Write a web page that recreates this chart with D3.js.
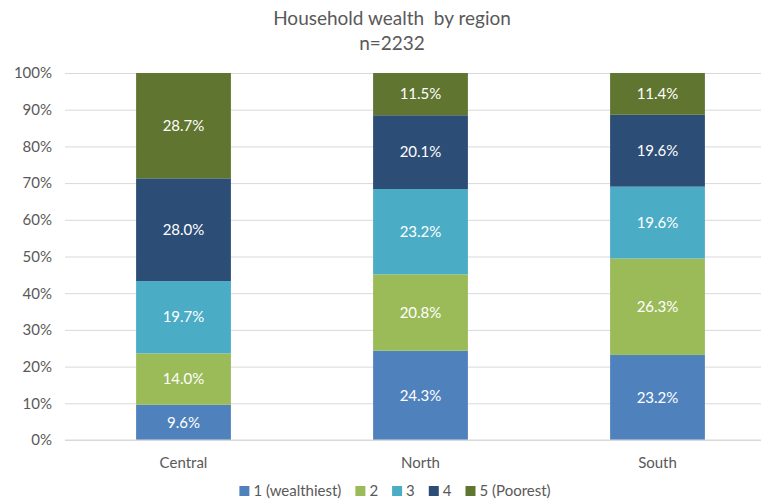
<!DOCTYPE html>
<html>
<head>
<meta charset="utf-8">
<script src="https://cdn.jsdelivr.net/npm/d3@7"></script>
<style>
  body { margin: 0; background: #fff; }
  svg text { font-family: Lato, "Open Sans", sans-serif; }
</style>
</head>
<body>
<svg id="chart"></svg>
<script>
// data
const regions = ['Central', 'North', 'South'];
const groups = ['1 (wealthiest)', '2', '3', '4', '5 (Poorest)'];
const q1 = [9.6, 24.3, 23.2];
const q2 = [14.0, 20.8, 26.3];
const q3 = [19.7, 23.2, 19.6];
const q4 = [28.0, 20.1, 19.6];
const q5 = [28.7, 11.5, 11.4];
const yTicks = [0, 10, 20, 30, 40, 50, 60, 70, 80, 90, 100];
const colors = ['#4F81BD', '#9BBB59', '#4BACC6', '#2C4D75', '#5F7530'];

const width = 761, height = 500;
const margin = {top: 73, right: -15, bottom: 60, left: 65};

const svg = d3.select('#chart')
    .attr('width', width)
    .attr('height', height);

const rows = regions.map((r, i) => {
  const vals = [q1[i], q2[i], q3[i], q4[i], q5[i]];
  const total = d3.sum(vals);
  const row = {region: r};
  groups.forEach((g, j) => { row[g] = vals[j] / total * 100; row['raw' + j] = vals[j]; });
  return row;
});

const series = d3.stack().keys(groups)(rows);

const xScale = d3.scaleBand()
    .domain(regions)
    .range([margin.left, width - margin.right])
    .paddingInner(0.6)
    .paddingOuter(0.3);

const yScale = d3.scaleLinear()
    .domain([0, 100])
    .range([height - margin.bottom, margin.top]);

// gridlines + y labels
const yAxis = d3.axisLeft(yScale)
    .tickValues(yTicks)
    .tickSize(-(width - margin.right - margin.left))
    .tickPadding(13)
    .tickFormat(d => d + '%');

svg.append('g')
    .attr('transform', `translate(${margin.left},0)`)
    .call(yAxis)
    .call(g => g.select('.domain').remove())
    .call(g => g.selectAll('.tick line').attr('stroke', '#d9d9d9').attr('stroke-width', 1))
    .call(g => g.selectAll('.tick text').attr('fill', '#595959').style('font-size', '15px'));

// bars
const layer = svg.append('g').selectAll('g')
    .data(series)
    .join('g')
    .attr('fill', (d, i) => colors[i]);

layer.selectAll('rect')
    .data(d => d)
    .join('rect')
    .attr('x', d => xScale(d.data.region))
    .attr('width', xScale.bandwidth())
    .attr('y', d => yScale(d[1]))
    .attr('height', d => yScale(d[0]) - yScale(d[1]));

// value labels
series.forEach((s, j) => {
  svg.append('g').selectAll('text')
      .data(s)
      .join('text')
      .attr('x', d => xScale(d.data.region) + xScale.bandwidth() / 2)
      .attr('y', d => (yScale(d[0]) + yScale(d[1])) / 2)
      .attr('dy', '0.35em')
      .attr('text-anchor', 'middle')
      .attr('fill', '#fff')
      .style('font-size', '15px')
      .text(d => d.data['raw' + j].toFixed(1) + '%');
});

// x axis line + labels
svg.append('line')
    .attr('x1', margin.left).attr('x2', width)
    .attr('y1', yScale(0)).attr('y2', yScale(0))
    .attr('stroke', '#d9d9d9');

svg.append('g').selectAll('text')
    .data(regions)
    .join('text')
    .attr('x', d => xScale(d) + xScale.bandwidth() / 2)
    .attr('y', yScale(0) + 28)
    .attr('text-anchor', 'middle')
    .attr('fill', '#595959')
    .style('font-size', '15px')
    .text(d => d);

// title
svg.append('text')
    .attr('x', 392).attr('y', 25)
    .attr('text-anchor', 'middle')
    .attr('fill', '#595959')
    .style('font-size', '19px')
    .style('white-space', 'pre')
    .text('Household wealth  by region');

svg.append('text')
    .attr('x', 392).attr('y', 50)
    .attr('text-anchor', 'middle')
    .attr('fill', '#595959')
    .style('font-size', '19px')
    .text('n=2232');

// legend
const legend = svg.append('g');
let lx = 0;
groups.forEach((g, i) => {
  const item = legend.append('g').attr('transform', `translate(${lx},0)`);
  item.append('rect')
      .attr('width', 10).attr('height', 10)
      .attr('y', -10)
      .attr('fill', colors[i]);
  const t = item.append('text')
      .attr('x', 14)
      .attr('fill', '#595959')
      .style('font-size', '15px')
      .text(g);
  lx += 14 + t.node().getComputedTextLength() + 14;
});
legend.attr('transform', `translate(${(233 + 557) / 2 - (lx - 14) / 2},496)`);
</script>
</body>
</html>
